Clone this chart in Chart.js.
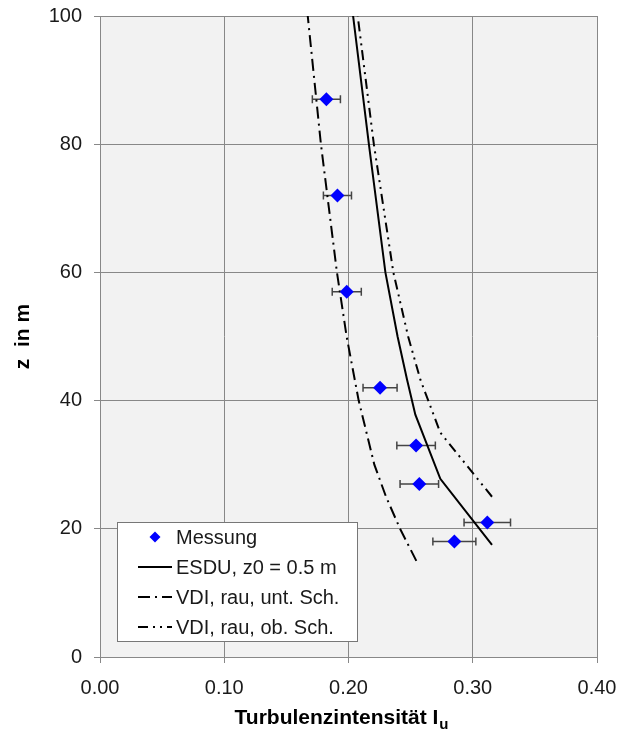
<!DOCTYPE html>
<html>
<head>
<meta charset="utf-8">
<script src="https://cdn.jsdelivr.net/npm/chart.js@4/dist/chart.umd.min.js"></script>
<style>
  html, body { margin: 0; padding: 0; background: #fff; }
  canvas { display: block; }
</style>
</head>
<body>
<canvas id="chart" width="619" height="735"></canvas>
<script>
// Messung (measured points with error bars)
const zMessung = [87, 72, 57, 42, 33, 27, 21, 18];
const iuMessung = [0.1822, 0.1911, 0.1986, 0.2254, 0.2544, 0.2570, 0.3117, 0.2852];
const iuFehler = [0.0113, 0.0113, 0.0117, 0.0137, 0.0155, 0.0155, 0.0187, 0.0173];

// ESDU, z0 = 0.5 m
const zEsdu = [17.5, 27.8, 37.8, 43.3, 50, 60, 80, 100];
const iuEsdu = [0.3155, 0.2739, 0.2538, 0.2471, 0.2395, 0.2297, 0.2164, 0.2037];

// VDI, rau, untere Schranke
const zVdiUnt = [15, 20, 25, 30, 40, 50, 60, 80, 100];
const iuVdiUnt = [0.2546, 0.2415, 0.2302, 0.2208, 0.2082, 0.1985, 0.1907, 0.1778, 0.1672];

// VDI, rau, obere Schranke
const zVdiOb = [25, 35, 43.3, 50, 60, 80, 100];
const iuVdiOb = [0.3155, 0.2739, 0.2578, 0.2480, 0.2361, 0.2204, 0.2074];

const xTicks = [0, 0.1, 0.2, 0.3, 0.4];
const yTicks = [0, 20, 40, 60, 80, 100];

const FONT = "'Liberation Sans', Arial, sans-serif";
const DASH_DOT = [12, 5, 2, 5];
const DASH_DOT_DOT = [10, 5, 2, 5, 2, 5];

const toPoints = (xs, ys) => xs.map((x, i) => ({ x: x, y: ys[i] }));

const plotBackground = {
  id: 'plotBackground',
  beforeDraw(chart) {
    const { ctx, chartArea: a } = chart;
    ctx.save();
    ctx.fillStyle = '#f2f2f2';
    ctx.fillRect(a.left, a.top, a.right - a.left, a.bottom - a.top);
    ctx.restore();
  }
};

const errorBars = {
  id: 'errorBars',
  beforeDatasetsDraw(chart) {
    const { ctx, scales } = chart;
    ctx.save();
    ctx.strokeStyle = '#444';
    ctx.lineWidth = 1.5;
    zMessung.forEach((z, i) => {
      const y = scales.y.getPixelForValue(z);
      const x1 = scales.x.getPixelForValue(iuMessung[i] - iuFehler[i]);
      const x2 = scales.x.getPixelForValue(iuMessung[i] + iuFehler[i]);
      ctx.beginPath();
      ctx.moveTo(x1, y); ctx.lineTo(x2, y);
      ctx.moveTo(x1, y - 4); ctx.lineTo(x1, y + 4);
      ctx.moveTo(x2, y - 4); ctx.lineTo(x2, y + 4);
      ctx.stroke();
    });
    ctx.restore();
  }
};

const legendBox = {
  id: 'legendBox',
  afterDraw(chart) {
    const { ctx, chartArea: a } = chart;
    const bx = a.left + 17, by = a.bottom - 135, bw = 240, bh = 119;
    ctx.save();
    ctx.fillStyle = '#fff';
    ctx.fillRect(bx, by, bw, bh);
    ctx.strokeStyle = '#777';
    ctx.lineWidth = 1;
    ctx.strokeRect(bx + 0.5, by + 0.5, bw, bh);

    const x1 = bx + 21, x2 = bx + 55, tx = bx + 59;
    ctx.font = '20px ' + FONT;
    ctx.textBaseline = 'middle';
    ctx.textAlign = 'left';
    chart.data.datasets.forEach((ds, i) => {
      const y = by + 15 + i * 30;
      if (ds.showLine === false) {
        const cx = (x1 + x2) / 2, r = 5.5;
        ctx.fillStyle = '#0000ff';
        ctx.beginPath();
        ctx.moveTo(cx, y - r); ctx.lineTo(cx + r, y); ctx.lineTo(cx, y + r); ctx.lineTo(cx - r, y);
        ctx.closePath();
        ctx.fill();
      } else {
        ctx.strokeStyle = '#000';
        ctx.lineWidth = 2;
        ctx.setLineDash(ds.borderDash || []);
        ctx.beginPath();
        ctx.moveTo(x1, y); ctx.lineTo(x2, y);
        ctx.stroke();
        ctx.setLineDash([]);
      }
      ctx.fillStyle = '#1a1a1a';
      ctx.fillText(ds.label, tx, y + 1);
    });
    ctx.restore();
  }
};

const axisTitles = {
  id: 'axisTitles',
  afterDraw(chart) {
    const { ctx, chartArea: a } = chart;
    ctx.save();
    ctx.fillStyle = '#000';
    ctx.textBaseline = 'middle';

    // y title
    ctx.save();
    ctx.translate(23, (a.top + a.bottom) / 2);
    ctx.rotate(-Math.PI / 2);
    ctx.textAlign = 'center';
    ctx.font = 'bold 21px ' + FONT;
    ctx.fillText('z  in m', 0, 0);
    ctx.restore();

    // x title with subscript
    const main = 'Turbulenzintensität I';
    const sub = 'u';
    ctx.font = 'bold 21px ' + FONT;
    const w1 = ctx.measureText(main).width;
    ctx.font = 'bold 15px ' + FONT;
    const w2 = ctx.measureText(sub).width;
    const cx = 341, cy = 718;
    const start = cx - (w1 + w2) / 2;
    ctx.textAlign = 'left';
    ctx.font = 'bold 21px ' + FONT;
    ctx.fillText(main, start, cy);
    ctx.font = 'bold 15px ' + FONT;
    ctx.fillText(sub, start + w1 + 1, cy + 7);
    ctx.restore();
  }
};

new Chart(document.getElementById('chart'), {
  type: 'scatter',
  data: {
    datasets: [
      {
        label: 'Messung',
        data: toPoints(iuMessung, zMessung),
        showLine: false,
        pointStyle: 'rectRot',
        pointRadius: 7,
        backgroundColor: '#0000ff',
        borderColor: '#0000ff',
        borderWidth: 0
      },
      {
        label: 'ESDU, z0 = 0.5 m',
        data: toPoints(iuEsdu, zEsdu),
        showLine: true,
        borderColor: '#000',
        borderWidth: 2,
        pointRadius: 0
      },
      {
        label: 'VDI, rau, unt. Sch.',
        data: toPoints(iuVdiUnt, zVdiUnt),
        showLine: true,
        borderColor: '#000',
        borderWidth: 2,
        borderDash: DASH_DOT,
        pointRadius: 0
      },
      {
        label: 'VDI, rau, ob. Sch.',
        data: toPoints(iuVdiOb, zVdiOb),
        showLine: true,
        borderColor: '#000',
        borderWidth: 2,
        borderDash: DASH_DOT_DOT,
        pointRadius: 0
      }
    ]
  },
  options: {
    responsive: false,
    animation: false,
    layout: { padding: { top: 16, right: 22, left: 0, bottom: 0 } },
    plugins: {
      legend: { display: false },
      tooltip: { enabled: false }
    },
    scales: {
      x: {
        type: 'linear',
        min: xTicks[0],
        max: xTicks[xTicks.length - 1],
        afterBuildTicks: s => { s.ticks = xTicks.map(v => ({ value: v })); },
        afterFit: s => { s.height = 78; s.paddingLeft = 0; s.paddingRight = 0; },
        ticks: {
          callback: v => Number(v).toFixed(2),
          color: '#1a1a1a',
          font: { family: FONT, size: 20 },
          padding: 13,
          maxRotation: 0
        },
        grid: { color: '#888', lineWidth: 1, tickLength: 6 },
        border: { color: '#888', width: 1 }
      },
      y: {
        type: 'linear',
        min: yTicks[0],
        max: yTicks[yTicks.length - 1],
        afterBuildTicks: s => { s.ticks = yTicks.map(v => ({ value: v })); },
        afterFit: s => { s.width = 100; s.paddingTop = 0; s.paddingBottom = 0; },
        ticks: {
          color: '#1a1a1a',
          font: { family: FONT, size: 20 },
          padding: 12
        },
        grid: { color: '#888', lineWidth: 1, tickLength: 6 },
        border: { color: '#888', width: 1 }
      }
    }
  },
  plugins: [plotBackground, errorBars, legendBox, axisTitles]
});
</script>
</body>
</html>
